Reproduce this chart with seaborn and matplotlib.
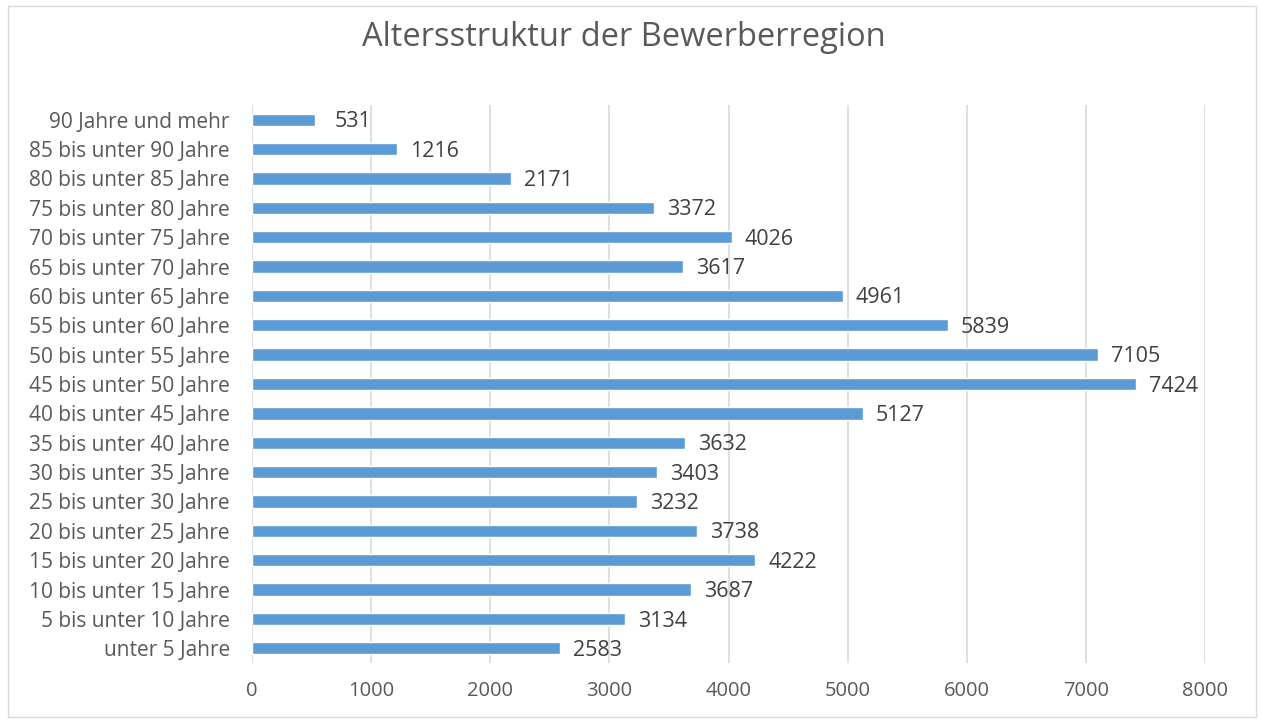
import seaborn as sns
import matplotlib.pyplot as plt
import pandas as pd
from matplotlib.patches import Rectangle

# Altersgruppen (von oben nach unten wie im Original)
altersgruppen = [
    "90 Jahre und mehr", "85 bis unter 90 Jahre", "80 bis unter 85 Jahre",
    "75 bis unter 80 Jahre", "70 bis unter 75 Jahre", "65 bis unter 70 Jahre",
    "60 bis unter 65 Jahre", "55 bis unter 60 Jahre", "50 bis unter 55 Jahre",
    "45 bis unter 50 Jahre", "40 bis unter 45 Jahre", "35 bis unter 40 Jahre",
    "30 bis unter 35 Jahre", "25 bis unter 30 Jahre", "20 bis unter 25 Jahre",
    "15 bis unter 20 Jahre", "10 bis unter 15 Jahre", "5 bis unter 10 Jahre",
    "unter 5 Jahre",
]
anzahl = [531, 1216, 2171, 3372, 4026, 3617, 4961, 5839, 7105, 7424,
          5127, 3632, 3403, 3232, 3738, 4222, 3687, 3134, 2583]
x_ticks = [0, 1000, 2000, 3000, 4000, 5000, 6000, 7000, 8000]

df = pd.DataFrame({"gruppe": altersgruppen, "anzahl": anzahl})

sns.set_theme(style="white")
plt.rcParams["font.family"] = ["Open Sans", "DejaVu Sans"]
text_col = "#595959"

fig = plt.figure(figsize=(12.62, 7.19), dpi=100)
ax = fig.add_axes([252 / 1262, 1 - 663 / 719, (1205 - 252) / 1262, (663 - 105) / 719])

sns.barplot(data=df, x="anzahl", y="gruppe", orient="h", color="#5B9BD5",
            saturation=1, width=0.42, ax=ax, zorder=3)

for i, v in enumerate(anzahl):
    ax.annotate(str(v), xy=(v, i), xytext=(27, -1.5), textcoords="offset points",
                ha="center", va="center", fontsize=15.5, color="#404040")

ax.set_xlim(0, 8000)
ax.set_ylim(len(altersgruppen) - 0.5, -0.5)
ax.set_xticks(x_ticks)
ax.xaxis.grid(True, color="#D9D9D9", linewidth=1.2, zorder=0)
ax.set_axisbelow(True)
for s in ax.spines.values():
    s.set_visible(False)
ax.tick_params(axis="both", length=0, colors=text_col)
ax.tick_params(axis="y", pad=16, labelsize=15)
ax.tick_params(axis="x", pad=13, labelsize=14.5)
ax.set_xlabel("")
ax.set_ylabel("")

fig.text(624 / 1262, 1 - 37 / 719, "Altersstruktur der Bewerberregion",
         ha="center", va="center", fontsize=23.5, color=text_col)

# Rahmen um das Diagramm
fig.patches.append(Rectangle((8 / 1262, 2 / 719), 1248 / 1262, 711 / 719,
                             transform=fig.transFigure, fill=False,
                             edgecolor="#D9D9D9", linewidth=1))

fig.savefig("out.png", dpi=100)
